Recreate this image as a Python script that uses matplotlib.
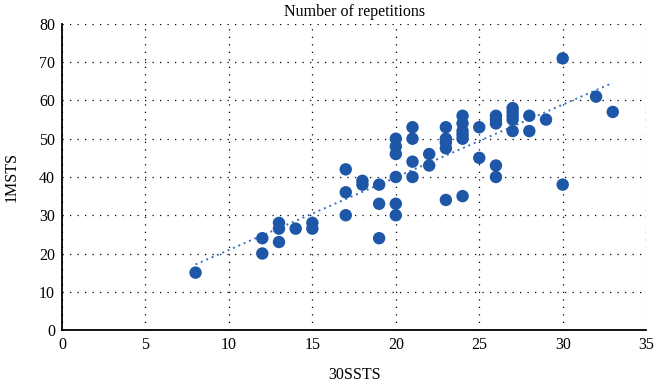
import numpy as np
import matplotlib
matplotlib.use("Agg")
import matplotlib.pyplot as plt

plt.rcParams["font.family"] = ["Liberation Serif", "DejaVu Serif"]

# 30SSTS (x) vs 1MSTS (y)
ssts30 = [8, 12, 12, 13, 13, 13, 14, 15, 15, 17, 17, 17, 18, 18, 19, 19, 19,
          20, 20, 20, 20, 20, 20, 21, 21, 21, 21, 22, 22, 23, 23, 23, 23, 23,
          24, 24, 24, 24, 24, 24, 25, 25, 26, 26, 26, 26, 26, 27, 27, 27, 27,
          27, 28, 28, 29, 30, 30, 32, 33]
msts1 = [15, 24, 20, 28, 26.5, 23, 26.5, 28, 26.5, 42, 36, 30, 39, 38, 38, 33, 24,
         50, 48, 46, 40, 33, 30, 53, 50, 44, 40, 46, 43, 53, 50, 49, 47.5, 34,
         56, 54, 52, 51, 50, 35, 53, 45, 56, 55, 54, 43, 40, 58, 57, 56, 55,
         52, 56, 52, 55, 71, 38, 61, 57]

x_ticks = [0, 5, 10, 15, 20, 25, 30, 35]
y_ticks = [0, 10, 20, 30, 40, 50, 60, 70, 80]

blue = "#1E56A8"

fig = plt.figure(figsize=(6.6, 3.86), dpi=100)
ax = fig.add_axes([0.094, 0.145, 0.885, 0.793])

ax.scatter(ssts30, msts1, s=80, color=blue, edgecolors="none", zorder=3)

# linear trend line across the data range
xs = np.array(ssts30, dtype=float)
ys = np.array(msts1, dtype=float)
slope, intercept = np.polyfit(xs, ys, 1)
xl = np.array([xs.min(), xs.max()])
ax.plot(xl, slope * xl + intercept, linestyle=(0, (1, 2)), color="#3A6FC0",
        lw=1.4, zorder=2)

ax.set_xlim(0, 35)
ax.set_ylim(0, 80)
ax.set_xticks(x_ticks)
ax.set_yticks(y_ticks)
ax.tick_params(length=0, labelsize=11.5, pad=5)
ax.grid(True, linestyle=(0, (1, 5)), color="black", lw=0.9)
ax.set_axisbelow(True)

for side in ["top", "right"]:
    ax.spines[side].set_visible(False)
for side in ["left", "bottom"]:
    ax.spines[side].set_linewidth(1.3)

ax.set_title("Number of repetitions", fontsize=11.5, pad=6)
ax.set_xlabel("30SSTS", fontsize=11.5, labelpad=10)
ax.set_ylabel("1MSTS", fontsize=11.5, labelpad=14)

fig.savefig("out.png", dpi=100)
